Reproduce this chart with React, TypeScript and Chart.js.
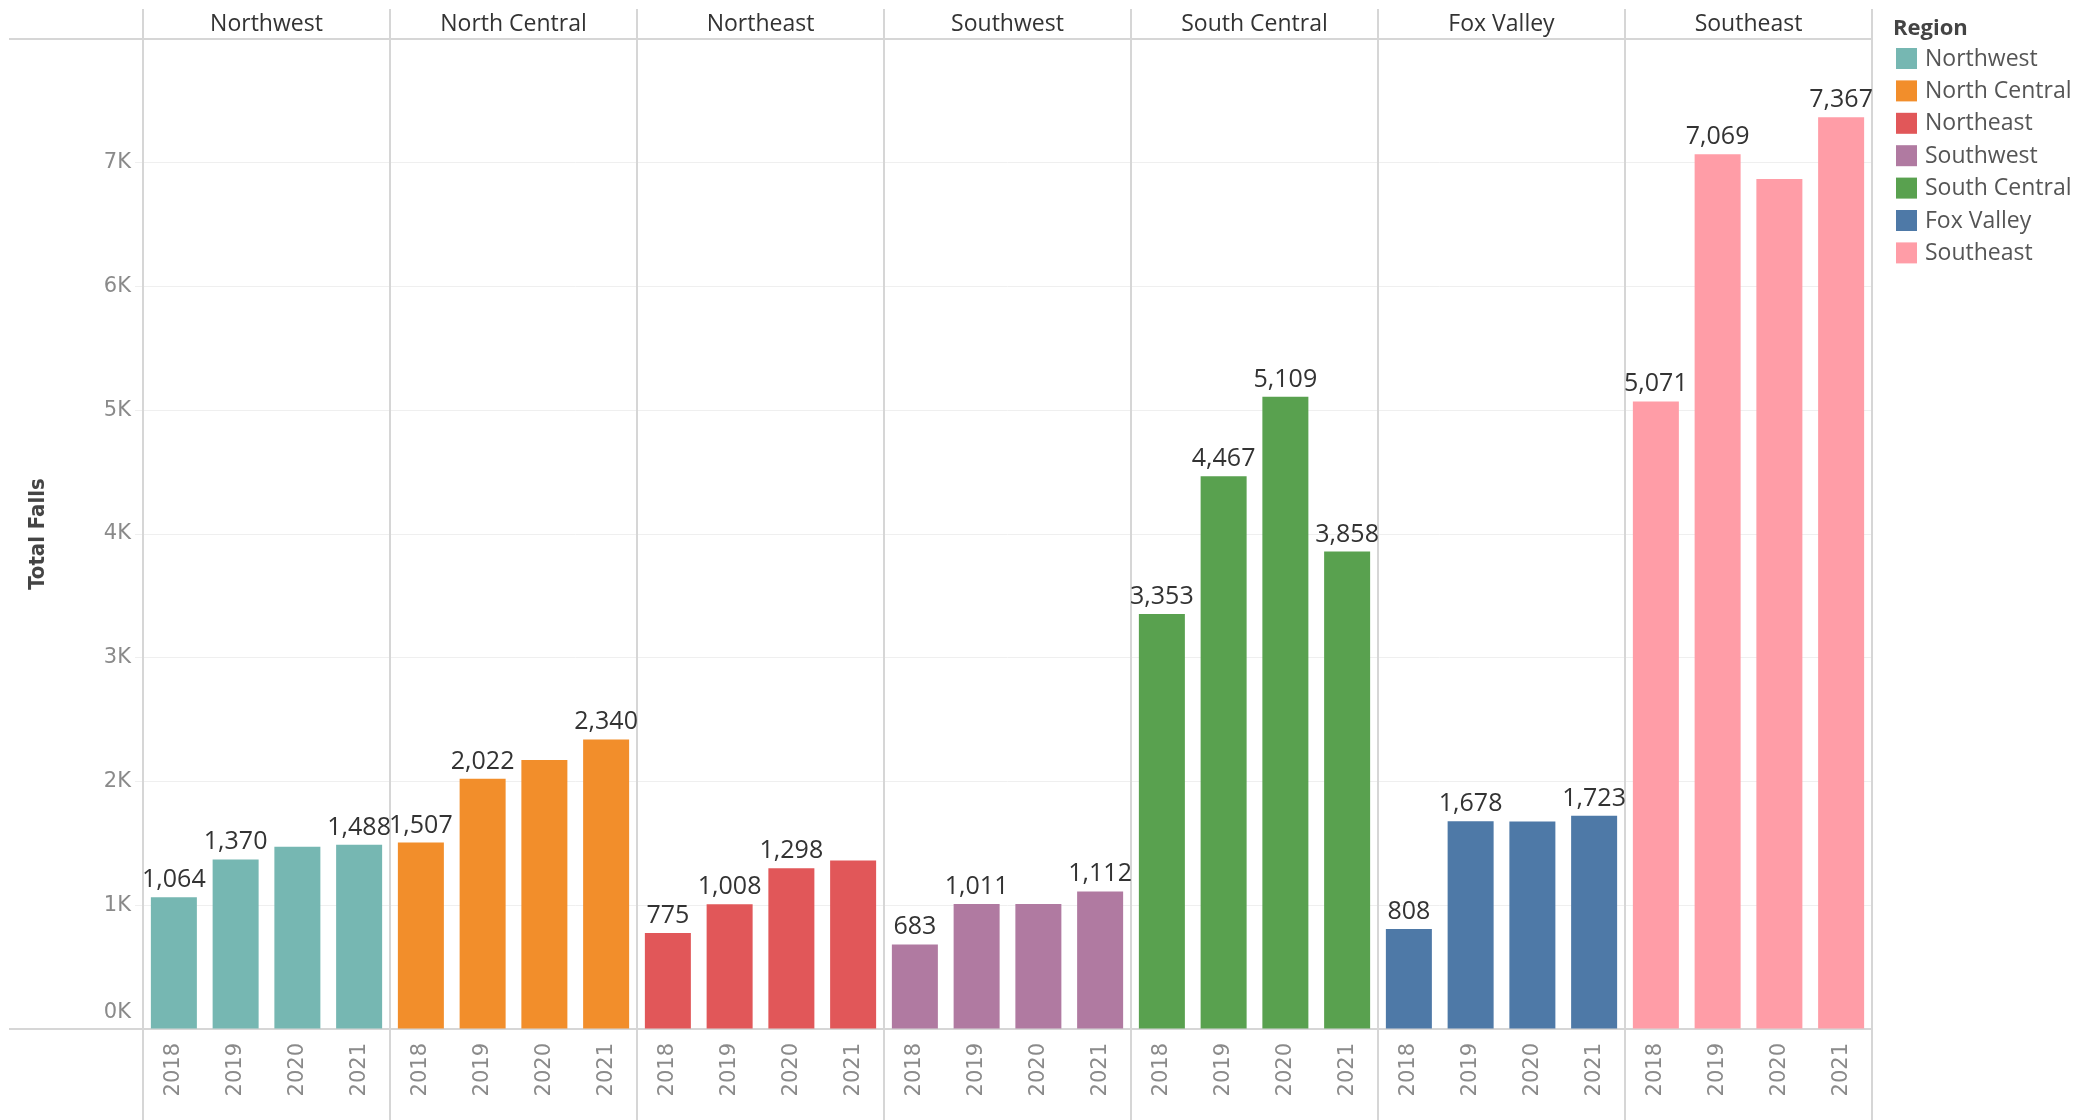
import React, { useEffect, useRef } from "react";
import { Chart, registerables } from "chart.js";

Chart.register(...registerables);

const years = ["2018", "2019", "2020", "2021"];
const regions = ["Northwest", "North Central", "Northeast", "Southwest", "South Central", "Fox Valley", "Southeast"];
const regionColors = ["#76b7b2", "#f28e2b", "#e15759", "#b07aa1", "#59a14f", "#4e79a7", "#ff9da7"];

const northwest = [1064, 1370, 1473, 1488];
const northCentral = [1507, 2022, 2173, 2340];
const northeast = [775, 1008, 1298, 1362];
const southwest = [683, 1011, 1010, 1112];
const southCentral = [3353, 4467, 5109, 3858];
const foxValley = [808, 1678, 1677, 1723];
const southeast = [5071, 7069, 6868, 7367];

// which value labels are visible (1 = shown)
const northwestLabels = [1, 1, 0, 1];
const northCentralLabels = [1, 1, 0, 1];
const northeastLabels = [1, 1, 1, 0];
const southwestLabels = [1, 1, 0, 1];
const southCentralLabels = [1, 1, 1, 1];
const foxValleyLabels = [1, 1, 0, 1];
const southeastLabels = [1, 1, 0, 1];

const yTickValues = [0, 1000, 2000, 3000, 4000, 5000, 6000, 7000];
const yTickLabels = ["0K", "1K", "2K", "3K", "4K", "5K", "6K", "7K"];

const regionValues = [northwest, northCentral, northeast, southwest, southCentral, foxValley, southeast];
const regionLabelFlags = [northwestLabels, northCentralLabels, northeastLabels, southwestLabels, southCentralLabels, foxValleyLabels, southeastLabels];

const W = 2093;
const H = 1120;
const LINE = "#d6d6d6";
const MAIN_FONT = '"Open Sans", "Noto Sans", sans-serif';
const TICK_FONT = '"DejaVu Sans", "Open Sans", sans-serif';
const TICK_COLOR = "#8a8a8a";

export default function App() {
  const ref = useRef<HTMLCanvasElement | null>(null);

  useEffect(() => {
    document.body.style.margin = "0";
    document.body.style.background = "#ffffff";
    const canvas = ref.current;
    if (!canvas) return;

    const labels: string[] = [];
    const values: number[] = [];
    const colors: string[] = [];
    const showFlags: number[] = [];
    regions.forEach((_, r) => {
      years.forEach((y, i) => {
        labels.push(y);
        values.push(regionValues[r][i]);
        colors.push(regionColors[r]);
        showFlags.push(regionLabelFlags[r][i]);
      });
    });

    const panelPlugin = {
      id: "panels",
      beforeDatasetsDraw(chart: any) {
        const ctx = chart.ctx;
        const area = chart.chartArea;
        const xs = chart.scales.x;
        const ys = chart.scales.y;
        const n = regions.length;
        ctx.save();
        ctx.strokeStyle = LINE;
        ctx.lineWidth = 2;
        // horizontal header line & baseline
        ctx.beginPath();
        ctx.moveTo(9, area.top);
        ctx.lineTo(area.right, area.top);
        ctx.moveTo(9, area.bottom);
        ctx.lineTo(area.right, area.bottom);
        ctx.stroke();
        // vertical dividers
        const step = xs.getPixelForValue(1) - xs.getPixelForValue(0);
        for (let k = 0; k <= n; k++) {
          const x = k < n ? xs.getPixelForValue(k * 4) - step / 2 : xs.getPixelForValue(n * 4 - 1) + step / 2;
          ctx.beginPath();
          ctx.moveTo(Math.round(x), 9);
          ctx.lineTo(Math.round(x), H);
          ctx.stroke();
        }
        // headers
        ctx.fillStyle = "#333333";
        ctx.font = `23px ${MAIN_FONT}`;
        ctx.textAlign = "center";
        ctx.textBaseline = "middle";
        for (let k = 0; k < n; k++) {
          const x0 = xs.getPixelForValue(k * 4) - step / 2;
          const x1 = xs.getPixelForValue(k * 4 + 3) + step / 2;
          ctx.fillText(regions[k], (x0 + x1) / 2, 24);
        }
        // bottom tick label (shifted above the baseline, as in the source)
        ctx.fillStyle = TICK_COLOR;
        ctx.font = `21px ${TICK_FONT}`;
        ctx.textAlign = "right";
        ctx.fillText(yTickLabels[0], ys.right - 12, ys.getPixelForValue(yTickValues[0]) - 16);
        ctx.restore();
      },
      afterDatasetsDraw(chart: any) {
        const ctx = chart.ctx;
        const meta = chart.getDatasetMeta(0);
        ctx.save();
        ctx.fillStyle = "#333333";
        ctx.font = `25px ${MAIN_FONT}`;
        ctx.textAlign = "center";
        ctx.textBaseline = "alphabetic";
        meta.data.forEach((bar: any, i: number) => {
          if (!showFlags[i]) return;
          ctx.fillText(values[i].toLocaleString("en-US"), bar.x, bar.y - 10);
        });
        // legend
        ctx.textAlign = "left";
        ctx.textBaseline = "middle";
        ctx.font = `bold 22px ${MAIN_FONT}`;
        ctx.fillStyle = "#444444";
        ctx.fillText("Region", 1893, 29);
        ctx.font = `23px ${MAIN_FONT}`;
        regions.forEach((name, i) => {
          const cy = 59 + i * 32.4;
          ctx.fillStyle = regionColors[i];
          ctx.fillRect(1896, cy - 11, 21, 21);
          ctx.fillStyle = "#555555";
          ctx.fillText(name, 1925, cy);
        });
        ctx.restore();
      },
    };

    const chart = new Chart(canvas, {
      type: "bar",
      data: {
        labels,
        datasets: [
          {
            label: "Total Falls",
            data: values,
            backgroundColor: colors,
            borderWidth: 0,
            barPercentage: 0.745,
            categoryPercentage: 1,
          },
        ],
      },
      options: {
        responsive: false,
        animation: false,
        devicePixelRatio: 1,
        layout: { padding: { left: 0, top: 39, right: W - 1872, bottom: 0 } },
        plugins: {
          legend: { display: false },
          tooltip: { enabled: false },
          title: { display: false },
        },
        scales: {
          x: {
            type: "category",
            grid: { display: false },
            border: { display: false },
            ticks: {
              autoSkip: false,
              minRotation: 90,
              maxRotation: 90,
              padding: 6,
              color: TICK_COLOR,
              font: { family: TICK_FONT, size: 21 },
            },
            afterFit(scale: any) {
              scale.height = H - 1029;
            },
          },
          y: {
            min: 0,
            max: 8000,
            afterBuildTicks(scale: any) {
              scale.ticks = yTickValues.map((v) => ({ value: v }));
            },
            ticks: {
              padding: 4,
              color: TICK_COLOR,
              font: { family: TICK_FONT, size: 21 },
              callback: (v: any) => {
                const idx = yTickValues.indexOf(Number(v));
                return idx > 0 ? yTickLabels[idx] : "";
              },
            },
            grid: { color: "#efefef", lineWidth: 1, tickLength: 8 },
            border: { display: false },
            title: {
              display: true,
              text: "Total Falls",
              color: "#444444",
              font: { family: '"Liberation Sans Narrow", "DejaVu Sans Condensed", "Open Sans", sans-serif', size: 22, weight: "bold" },
              padding: { top: 25, bottom: 0 },
            },
            afterFit(scale: any) {
              scale.width = 143;
            },
          },
        },
      },
      plugins: [panelPlugin],
    } as any);

    return () => chart.destroy();
  }, []);

  return (
    <div style={{ width: W, height: H, overflow: "hidden" }}>
      <canvas ref={ref} width={W} height={H} style={{ display: "block", width: W, height: H }} />
    </div>
  );
}
